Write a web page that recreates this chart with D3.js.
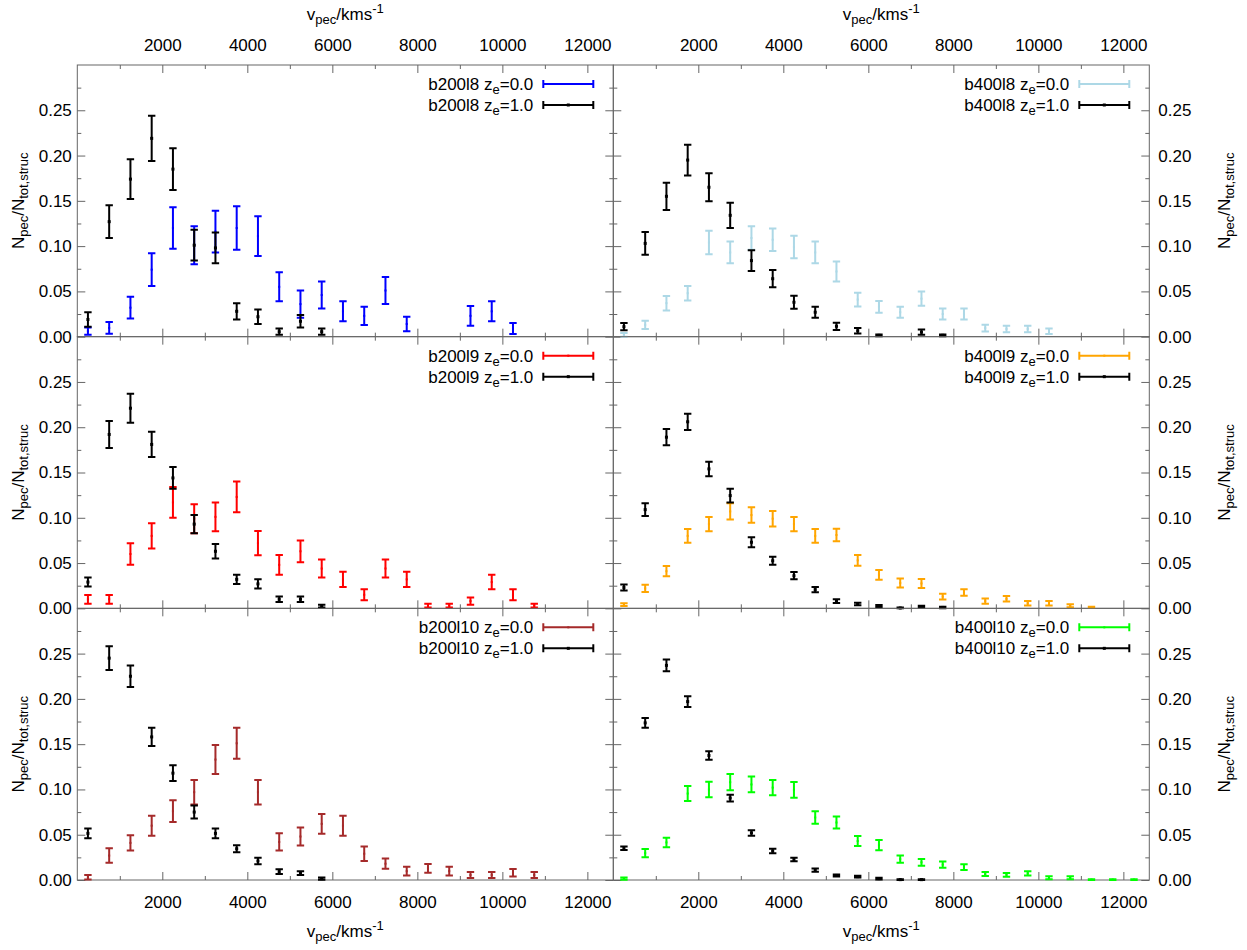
<!DOCTYPE html>
<html>
<head>
<meta charset="utf-8">
<script src="https://cdn.jsdelivr.net/npm/d3@7"></script>
<style>
  body { margin: 0; background: #fff; }
  svg text { font-family: "Liberation Sans", Arial, sans-serif; fill: #000; }
</style>
</head>
<body>
<div id="chart"></div>
<script>
// bin centres of v_pec (km/s)
var vBins = [250, 750, 1250, 1750, 2250, 2750, 3250, 3750, 4250, 4750, 5250, 5750, 6250,
             6750, 7250, 7750, 8250, 8750, 9250, 9750, 10250, 10750, 11250, 11750, 12250];

var xMajor = [2000, 4000, 6000, 8000, 10000, 12000];
var xMinor = [1000, 3000, 5000, 7000, 9000, 11000];
var yMajor = [0.00, 0.05, 0.10, 0.15, 0.20, 0.25];
var yMinor = [0.025, 0.075, 0.125, 0.175, 0.225, 0.275];

// b200l8
var b200l8_z0 =     [0.006, 0.0096, 0.032, 0.074, 0.120, 0.101, 0.116, 0.120, 0.111, 0.055, 0.036, 0.046, 0.028, 0.023, 0.051, 0.014, null, null, 0.023, 0.028, 0.009, null, null, null, null];
var b200l8_z0_err = [0.004, 0.0065, 0.012, 0.018, 0.023, 0.021, 0.023, 0.024, 0.022, 0.016, 0.015, 0.015, 0.011, 0.010, 0.015, 0.008, null, null, 0.011, 0.011, 0.006, null, null, null, null];
var b200l8_z1 =     [0.019, 0.127, 0.174, 0.219, 0.185, 0.101, 0.098, 0.028, 0.022, 0.0055, 0.017, 0.0055, null, null, null, null, null, null, null, null, null, null, null, null, null];
var b200l8_z1_err = [0.008, 0.018, 0.022, 0.025, 0.023, 0.017, 0.017, 0.009, 0.008, 0.0035, 0.007, 0.0035, null, null, null, null, null, null, null, null, null, null, null, null, null];

// b400l8
var b400l8_z0 =     [0.002, 0.013, 0.037, 0.048, 0.104, 0.093, 0.109, 0.107, 0.099, 0.093, 0.072, 0.041, 0.033, 0.027, 0.042, 0.025, 0.025, 0.0095, 0.0085, 0.0085, 0.006, null, null, null, null];
var b400l8_z0_err = [0.002, 0.0046, 0.008, 0.008, 0.013, 0.012, 0.013, 0.0125, 0.0125, 0.012, 0.011, 0.0076, 0.0065, 0.006, 0.0078, 0.006, 0.006, 0.0037, 0.0036, 0.0036, 0.003, null, null, null, null];
var b400l8_z1 =     [0.011, 0.103, 0.155, 0.195, 0.165, 0.134, 0.084, 0.064, 0.038, 0.027, 0.0115, 0.0065, 0.0015, null, 0.005, 0.0015, null, null, null, null, null, null, null, null, null];
var b400l8_z1_err = [0.004, 0.0125, 0.015, 0.017, 0.0155, 0.014, 0.0115, 0.0095, 0.0072, 0.006, 0.004, 0.003, 0.001, null, 0.0028, 0.001, null, null, null, null, null, null, null, null, null];

// b200l9
var b200l9_z0 =     [0.010, 0.010, 0.060, 0.080, 0.117, 0.099, 0.101, 0.123, 0.072, 0.048, 0.063, 0.044, 0.032, 0.015, 0.044, 0.032, 0.003, 0.003, 0.008, 0.029, 0.015, 0.003, null, null, null];
var b200l9_z0_err = [0.0048, 0.0048, 0.012, 0.014, 0.017, 0.016, 0.016, 0.017, 0.0135, 0.011, 0.012, 0.010, 0.0085, 0.006, 0.010, 0.0085, 0.002, 0.002, 0.004, 0.008, 0.006, 0.002, null, null, null];
var b200l9_z1 =     [0.029, 0.192, 0.221, 0.181, 0.144, 0.093, 0.063, 0.032, 0.027, 0.010, 0.010, 0.0025, null, null, null, null, null, null, null, null, null, null, null, null, null];
var b200l9_z1_err = [0.005, 0.015, 0.016, 0.014, 0.012, 0.010, 0.008, 0.005, 0.005, 0.003, 0.003, 0.0015, null, null, null, null, null, null, null, null, null, null, null, null, null];

// b400l9
var b400l9_z0 =     [0.004, 0.022, 0.041, 0.080, 0.093, 0.107, 0.103, 0.099, 0.093, 0.080, 0.081, 0.053, 0.037, 0.028, 0.0275, 0.013, 0.0175, 0.008, 0.0105, 0.0057, 0.0055, 0.0028, 0.001, null, null];
var b400l9_z0_err = [0.0015, 0.004, 0.0057, 0.0075, 0.008, 0.009, 0.0085, 0.0085, 0.008, 0.0075, 0.007, 0.006, 0.0053, 0.005, 0.005, 0.0032, 0.0035, 0.003, 0.003, 0.0025, 0.0025, 0.0017, 0.0007, null, null];
var b400l9_z1 =     [0.023, 0.109, 0.189, 0.206, 0.154, 0.1245, 0.073, 0.0525, 0.036, 0.0207, 0.008, 0.0048, 0.0026, 0.0004, 0.0018, 0.001, null, null, null, null, null, null, null, null, null];
var b400l9_z1_err = [0.0033, 0.007, 0.009, 0.009, 0.008, 0.0075, 0.0055, 0.0045, 0.004, 0.003, 0.002, 0.0015, 0.0012, 0.0006, 0.001, 0.0008, null, null, null, null, null, null, null, null, null];

// b200l10
var b200l10_z0 =     [0.003, 0.027, 0.041, 0.060, 0.076, 0.097, 0.133, 0.151, 0.097, 0.042, 0.048, 0.062, 0.060, 0.029, 0.018, 0.0098, 0.0128, 0.0098, 0.0055, 0.0055, 0.008, 0.0055, null, null, null];
var b200l10_z0_err = [0.0025, 0.008, 0.0085, 0.011, 0.012, 0.0135, 0.016, 0.017, 0.0135, 0.0095, 0.010, 0.011, 0.011, 0.008, 0.0057, 0.0047, 0.0048, 0.0047, 0.0033, 0.0033, 0.0042, 0.0033, null, null, null];
var b200l10_z1 =     [0.0515, 0.245, 0.225, 0.158, 0.118, 0.075, 0.0515, 0.0345, 0.021, 0.0092, 0.0076, 0.0015, null, null, null, null, null, null, null, null, null, null, null, null, null];
var b200l10_z1_err = [0.0055, 0.013, 0.012, 0.010, 0.0087, 0.0072, 0.0055, 0.0038, 0.0035, 0.0026, 0.002, 0.0012, null, null, null, null, null, null, null, null, null, null, null, null, null];

// b400l10
var b400l10_z0 =     [0.0015, 0.0297, 0.0415, 0.0955, 0.100, 0.108, 0.1055, 0.102, 0.0995, 0.069, 0.0635, 0.043, 0.0385, 0.023, 0.0195, 0.017, 0.0142, 0.0066, 0.0057, 0.0073, 0.0025, 0.0025, 0.0005, 0.0005, 0.0005];
var b400l10_z0_err = [0.0012, 0.0046, 0.0052, 0.0083, 0.0085, 0.009, 0.0087, 0.0083, 0.0087, 0.007, 0.0065, 0.0055, 0.0057, 0.004, 0.0037, 0.0034, 0.0032, 0.0022, 0.002, 0.0023, 0.0017, 0.0017, 0.0004, 0.0004, 0.0004];
var b400l10_z1 =     [0.035, 0.1735, 0.237, 0.197, 0.1375, 0.0905, 0.052, 0.032, 0.0226, 0.011, 0.005, 0.0037, 0.0015, 0.0004, 0.0004, null, null, null, null, null, null, null, null, null, null];
var b400l10_z1_err = [0.002, 0.0055, 0.0065, 0.006, 0.0046, 0.0037, 0.003, 0.0024, 0.002, 0.0018, 0.0012, 0.001, 0.0009, 0.0005, 0.0005, null, null, null, null, null, null, null, null, null, null];

var panels = [
  {name: "b200l8",  row: 0, col: 0, color: "#0000ff", z0: b200l8_z0,  e0: b200l8_z0_err,  z1: b200l8_z1,  e1: b200l8_z1_err},
  {name: "b400l8",  row: 0, col: 1, color: "#add8e6", z0: b400l8_z0,  e0: b400l8_z0_err,  z1: b400l8_z1,  e1: b400l8_z1_err},
  {name: "b200l9",  row: 1, col: 0, color: "#ff0000", z0: b200l9_z0,  e0: b200l9_z0_err,  z1: b200l9_z1,  e1: b200l9_z1_err},
  {name: "b400l9",  row: 1, col: 1, color: "#ffa500", z0: b400l9_z0,  e0: b400l9_z0_err,  z1: b400l9_z1,  e1: b400l9_z1_err},
  {name: "b200l10", row: 2, col: 0, color: "#a52a2a", z0: b200l10_z0, e0: b200l10_z0_err, z1: b200l10_z1, e1: b200l10_z1_err},
  {name: "b400l10", row: 2, col: 1, color: "#00ff00", z0: b400l10_z0, e0: b400l10_z0_err, z1: b400l10_z1, e1: b400l10_z1_err}
];

var W = 1247, H = 950;
var pw = 536, ph = 271.67;
var lefts = [77.3, 613.3], tops = [65, 336.67, 608.33];
var frameColor = "#666";
var fs = "17px", fsSub = "13px";

var svg = d3.select("#chart").append("svg")
    .attr("width", W).attr("height", H);

var x = d3.scaleLinear().domain([0, 12610]).range([0, pw]);
var y = d3.scaleLinear().domain([0, 0.3]).range([ph, 0]);

function styleAxis(g) {
  g.select(".domain").remove();
  g.selectAll(".tick line").attr("stroke", frameColor);
  g.selectAll(".tick text").style("font-size", fs);
}

panels.forEach(function(p) {
  var g = svg.append("g")
      .attr("transform", "translate(" + lefts[p.col] + "," + tops[p.row] + ")");

  // frame
  g.append("rect")
      .attr("width", pw).attr("height", ph)
      .attr("fill", "none").attr("stroke", frameColor).attr("stroke-width", 1);

  // x ticks, bottom and top
  g.append("g").attr("transform", "translate(0," + ph + ")")
      .call(d3.axisBottom(x).tickValues(xMajor).tickSizeInner(-8).tickSizeOuter(0).tickPadding(15.8)
        .tickFormat(p.row == 2 ? d3.format("d") : ""))
      .call(styleAxis);
  g.append("g").attr("transform", "translate(0," + ph + ")")
      .call(d3.axisBottom(x).tickValues(xMinor).tickSizeInner(-4).tickSizeOuter(0).tickFormat(""))
      .call(styleAxis);
  g.append("g")
      .call(d3.axisTop(x).tickValues(xMajor).tickSizeInner(-8).tickSizeOuter(0).tickPadding(14)
        .tickFormat(p.row == 0 ? d3.format("d") : ""))
      .call(styleAxis);
  g.append("g")
      .call(d3.axisTop(x).tickValues(xMinor).tickSizeInner(-4).tickSizeOuter(0).tickFormat(""))
      .call(styleAxis);

  // y ticks, left and right
  g.append("g")
      .call(d3.axisLeft(y).tickValues(yMajor).tickSizeInner(-8).tickSizeOuter(0).tickPadding(5.5)
        .tickFormat(p.col == 0 ? d3.format(".2f") : ""))
      .call(styleAxis);
  g.append("g")
      .call(d3.axisLeft(y).tickValues(yMinor).tickSizeInner(-4).tickSizeOuter(0).tickFormat(""))
      .call(styleAxis);
  g.append("g").attr("transform", "translate(" + pw + ",0)")
      .call(d3.axisRight(y).tickValues(yMajor).tickSizeInner(-8).tickSizeOuter(0).tickPadding(9)
        .tickFormat(p.col == 1 ? d3.format(".2f") : ""))
      .call(styleAxis);
  g.append("g").attr("transform", "translate(" + pw + ",0)")
      .call(d3.axisRight(y).tickValues(yMinor).tickSizeInner(-4).tickSizeOuter(0).tickFormat(""))
      .call(styleAxis);

  // error bars: z_e=0.0 in colour, z_e=1.0 in black on top
  var series = [
    {vals: p.z0, errs: p.e0, color: p.color, pt: 2, label: "=0.0"},
    {vals: p.z1, errs: p.e1, color: "#000", pt: 3, label: "=1.0"}
  ];

  series.forEach(function(s, si) {
    var pts = vBins.map(function(v, i) { return {v: v, n: s.vals[i], e: s.errs[i]}; })
        .filter(function(d) { return d.n != null; });
    var eg = g.append("g").attr("stroke", s.color).attr("stroke-width", 2).attr("fill", "none");
    eg.selectAll(".bar").data(pts).join("path")
        .attr("d", function(d) {
          var cx = x(d.v), t = y(d.n + d.e), b = y(Math.max(d.n - d.e, 0));
          return "M" + cx + "," + t + "V" + b +
                 "M" + (cx - 3.7) + "," + t + "h7.4" +
                 "M" + (cx - 3.7) + "," + b + "h7.4";
        });
    g.append("g").selectAll("rect").data(pts).join("rect")
        .attr("x", function(d) { return x(d.v) - s.pt / 2; })
        .attr("y", function(d) { return y(d.n) - s.pt / 2; })
        .attr("width", s.pt).attr("height", s.pt)
        .attr("fill", s.color);

    // legend entry
    var ly = 19 + si * 21;
    var lt = g.append("text")
        .attr("x", pw - 80).attr("y", ly + 6)
        .attr("text-anchor", "end")
        .style("font-size", fs);
    lt.append("tspan").text(p.name + " z");
    lt.append("tspan").attr("dy", 4).style("font-size", fsSub).text("e");
    lt.append("tspan").attr("dy", -4).text(s.label);

    var lx0 = pw - 70, lx1 = pw - 20;
    g.append("path")
        .attr("d", "M" + lx0 + "," + ly + "H" + lx1 +
                   "M" + lx0 + "," + (ly - 4) + "v8" +
                   "M" + lx1 + "," + (ly - 4) + "v8")
        .attr("stroke", s.color).attr("stroke-width", 2).attr("fill", "none");
    g.append("rect")
        .attr("x", (lx0 + lx1) / 2 - s.pt / 2).attr("y", ly - s.pt / 2)
        .attr("width", s.pt).attr("height", s.pt).attr("fill", s.color);
  });

  // y axis title
  var yt = svg.append("text")
      .attr("transform", "translate(" + (p.col == 0 ? 24 : 1230) + "," + (tops[p.row] + ph / 2) + ") rotate(-90)")
      .attr("text-anchor", "middle")
      .style("font-size", fs);
  yt.append("tspan").text("N");
  yt.append("tspan").attr("dy", 4).style("font-size", fsSub).text("pec");
  yt.append("tspan").attr("dy", -4).text("/N");
  yt.append("tspan").attr("dy", 4).style("font-size", fsSub).text("tot,struc");

  // x axis title on top row and bottom row
  if (p.row == 0 || p.row == 2) {
    var ty = p.row == 0 ? 20 : 937;
    var xt = svg.append("text")
        .attr("x", lefts[p.col] + pw / 2).attr("y", ty)
        .attr("text-anchor", "middle")
        .style("font-size", fs);
    xt.append("tspan").text("v");
    xt.append("tspan").attr("dy", 4).style("font-size", fsSub).text("pec");
    xt.append("tspan").attr("dy", -4).text("/kms");
    xt.append("tspan").attr("dy", -7).style("font-size", fsSub).text("-1");
  }
});
</script>
</body>
</html>
